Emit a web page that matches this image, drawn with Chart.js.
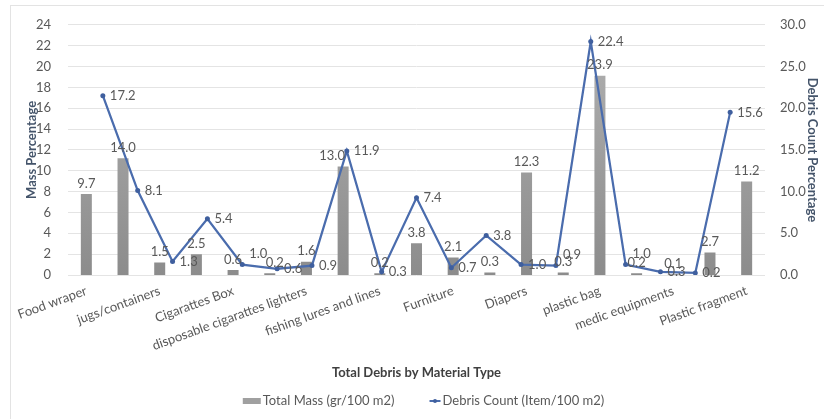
<!DOCTYPE html>
<html>
<head>
<meta charset="utf-8">
<title>Total Debris by Material Type</title>
<script src="https://cdn.jsdelivr.net/npm/chart.js@4.4.1/dist/chart.umd.min.js"></script>
<style>
    html, body { margin: 0; padding: 0; background: #ffffff; }
    #wrap { width: 824px; height: 419px; }
</style>
</head>
<body>
<div id="wrap"><canvas id="debrisChart" width="824" height="419"></canvas></div>
<script>
// Material types (only every other one carries a name on the axis)
const categories = ['Food wraper', '', 'jugs/containers', '', 'Cigarattes Box', '', 'disposable cigarattes lighters', '',
    'fishing lures and lines', '', 'Furniture', '', 'Diapers', '', 'plastic bag', '', 'medic equipments', '', 'Plastic fragment'];

// Total mass, gr/100 m2 (bars)
const totalMass = [9.7, 14.0, 1.5, 2.5, 0.6, 0.2, 1.6, 13.0, 0.2, 3.8, 2.1, 0.3, 12.3, 0.3, 23.9, 0.2, 0.1, 2.7, 11.2];

// Debris count, item/100 m2 (line)
const debrisCount = [17.2, 8.1, 1.3, 5.4, 1.0, 0.6, 0.9, 11.9, 0.3, 7.4, 0.7, 3.8, 1.0, 0.9, 22.4, 1.0, 0.3, 0.2, 15.6];

// Axis ticks
const massTicks = [0, 2, 4, 6, 8, 10, 12, 14, 16, 18, 20, 22, 24];
const countTicks = [0, 5, 10, 15, 20, 25, 30];

const FONT = 'Lato, "Open Sans", sans-serif';
const TEXT_GREY = '#595959';
const TITLE_BLUE = '#44546a';
const LINE_BLUE = '#4a6cad';

// a few labels sit off their default spot so they don't collide
const barLabelShift = { 7: -11, 5: 5 };
const raisedCountLabels = [4, 13, 15];

const valueLabels = {
    id: 'valueLabels',
    afterDatasetsDraw(chart) {
        const ctx = chart.ctx;
        ctx.save();
        ctx.font = '13px ' + FONT;
        ctx.fillStyle = TEXT_GREY;

        ctx.textAlign = 'center';
        ctx.textBaseline = 'bottom';
        chart.getDatasetMeta(0).data.forEach((bar, i) => {
            ctx.fillText(totalMass[i].toFixed(1), bar.x + (barLabelShift[i] || 0), bar.y - 4);
        });

        ctx.textAlign = 'left';
        ctx.textBaseline = 'middle';
        chart.getDatasetMeta(1).data.forEach((pt, i) => {
            const lift = raisedCountLabels.includes(i) ? 11 : 0;
            ctx.fillText(debrisCount[i].toFixed(1), pt.x + 7, pt.y - lift);
        });
        ctx.restore();
    }
};

// light frame plus the legend under the axis title
const frameAndLegend = {
    id: 'frameAndLegend',
    beforeDraw(chart) {
        const ctx = chart.ctx;
        ctx.save();
        ctx.strokeStyle = '#e3e3e3';
        ctx.lineWidth = 1;
        ctx.strokeRect(10.5, 5.5, 830, 430);
        ctx.restore();
    },
    afterDraw(chart) {
        const ctx = chart.ctx;
        const area = chart.chartArea;
        const y = 401;
        const names = chart.data.datasets.map(d => d.label);
        ctx.save();
        ctx.font = '13px ' + FONT;
        ctx.textBaseline = 'middle';
        ctx.textAlign = 'left';
        const w0 = ctx.measureText(names[0]).width;
        const w1 = ctx.measureText(names[1]).width;
        const total = 18 + 2 + w0 + 35 + 11 + 2 + w1;
        let x = (area.left + area.right) / 2 + 7 - total / 2;

        ctx.fillStyle = '#a0a0a0';
        ctx.fillRect(x, y - 3, 18, 6);
        x += 20;
        ctx.fillStyle = TEXT_GREY;
        ctx.fillText(names[0], x, y);
        x += w0 + 35;

        ctx.strokeStyle = LINE_BLUE;
        ctx.lineWidth = 2;
        ctx.beginPath();
        ctx.moveTo(x, y);
        ctx.lineTo(x + 11, y);
        ctx.stroke();
        ctx.fillStyle = '#3f5f9e';
        ctx.beginPath();
        ctx.arc(x + 5.5, y, 2, 0, Math.PI * 2);
        ctx.fill();
        x += 13;
        ctx.fillStyle = TEXT_GREY;
        ctx.fillText(names[1], x, y);
        ctx.restore();
    }
};

function barFill(context) {
    const area = context.chart.chartArea;
    if (!area) return '#9a9a9a';
    const g = context.chart.ctx.createLinearGradient(0, area.top, 0, area.bottom);
    g.addColorStop(0, '#b2b2b2');
    g.addColorStop(1, '#8c8c8c');
    return g;
}

const ctx = document.getElementById('debrisChart').getContext('2d');
const chart = new Chart(ctx, {
    data: {
        labels: categories,
        datasets: [
            {
                type: 'bar',
                label: 'Total Mass (gr/100 m2)',
                data: totalMass,
                xAxisID: 'x',
                yAxisID: 'yCount',
                backgroundColor: barFill,
                grouped: false,
                barPercentage: 0.3,
                categoryPercentage: 1,
                order: 2
            },
            {
                type: 'line',
                label: 'Debris Count (Item/100 m2)',
                data: debrisCount.map((v, i) => ({ x: i + 1, y: v })),
                xAxisID: 'xLine',
                yAxisID: 'yMass',
                borderColor: LINE_BLUE,
                borderWidth: 2.25,
                pointRadius: 2.5,
                pointBackgroundColor: '#3f5f9e',
                pointBorderWidth: 0,
                tension: 0,
                order: 1
            }
        ]
    },
    options: {
        responsive: false,
        animation: false,
        layout: { padding: { left: 20, right: 0, top: 11, bottom: 34 } },
        plugins: {
            legend: { display: false },
            tooltip: { enabled: false }
        },
        scales: {
            x: {
                type: 'category',
                offset: true,
                grid: { display: false, drawTicks: false },
                border: { display: false },
                ticks: {
                    autoSkip: false,
                    minRotation: 20,
                    maxRotation: 20,
                    padding: 8,
                    color: TEXT_GREY,
                    font: { family: FONT, size: 13 }
                },
                title: {
                    display: true,
                    text: 'Total Debris by Material Type',
                    color: '#404040',
                    font: { family: FONT, size: 13, weight: 'bold' }
                },
                afterFit: s => { s.height = 110; }
            },
            xLine: {
                type: 'linear',
                display: false,
                min: 0,
                max: 20
            },
            yMass: {
                position: 'left',
                min: 0,
                max: 24,
                grid: { color: '#e4e4e4', drawTicks: false },
                border: { display: false },
                ticks: {
                    padding: 17,
                    color: TEXT_GREY,
                    font: { family: FONT, size: 13 }
                },
                title: {
                    display: true,
                    text: 'Mass Percentage',
                    color: TITLE_BLUE,
                    font: { family: FONT, size: 13, weight: 'bold' }
                },
                afterBuildTicks: s => { s.ticks = massTicks.map(v => ({ value: v })); },
                afterFit: s => { s.width = 48; }
            },
            yCount: {
                position: 'right',
                min: 0,
                max: 30,
                grid: { display: false, drawTicks: false },
                border: { display: false },
                ticks: {
                    padding: 15,
                    color: TEXT_GREY,
                    font: { family: FONT, size: 13 },
                    callback: v => v.toFixed(1)
                },
                title: {
                    display: true,
                    text: 'Debris Count Percentage',
                    color: TITLE_BLUE,
                    padding: { top: 4, bottom: 2 },
                    font: { family: FONT, size: 13, weight: 'bold' }
                },
                afterBuildTicks: s => { s.ticks = countTicks.map(v => ({ value: v })); },
                afterFit: s => { s.width = 59; }
            }
        }
    },
    plugins: [valueLabels, frameAndLegend]
});
</script>
</body>
</html>
